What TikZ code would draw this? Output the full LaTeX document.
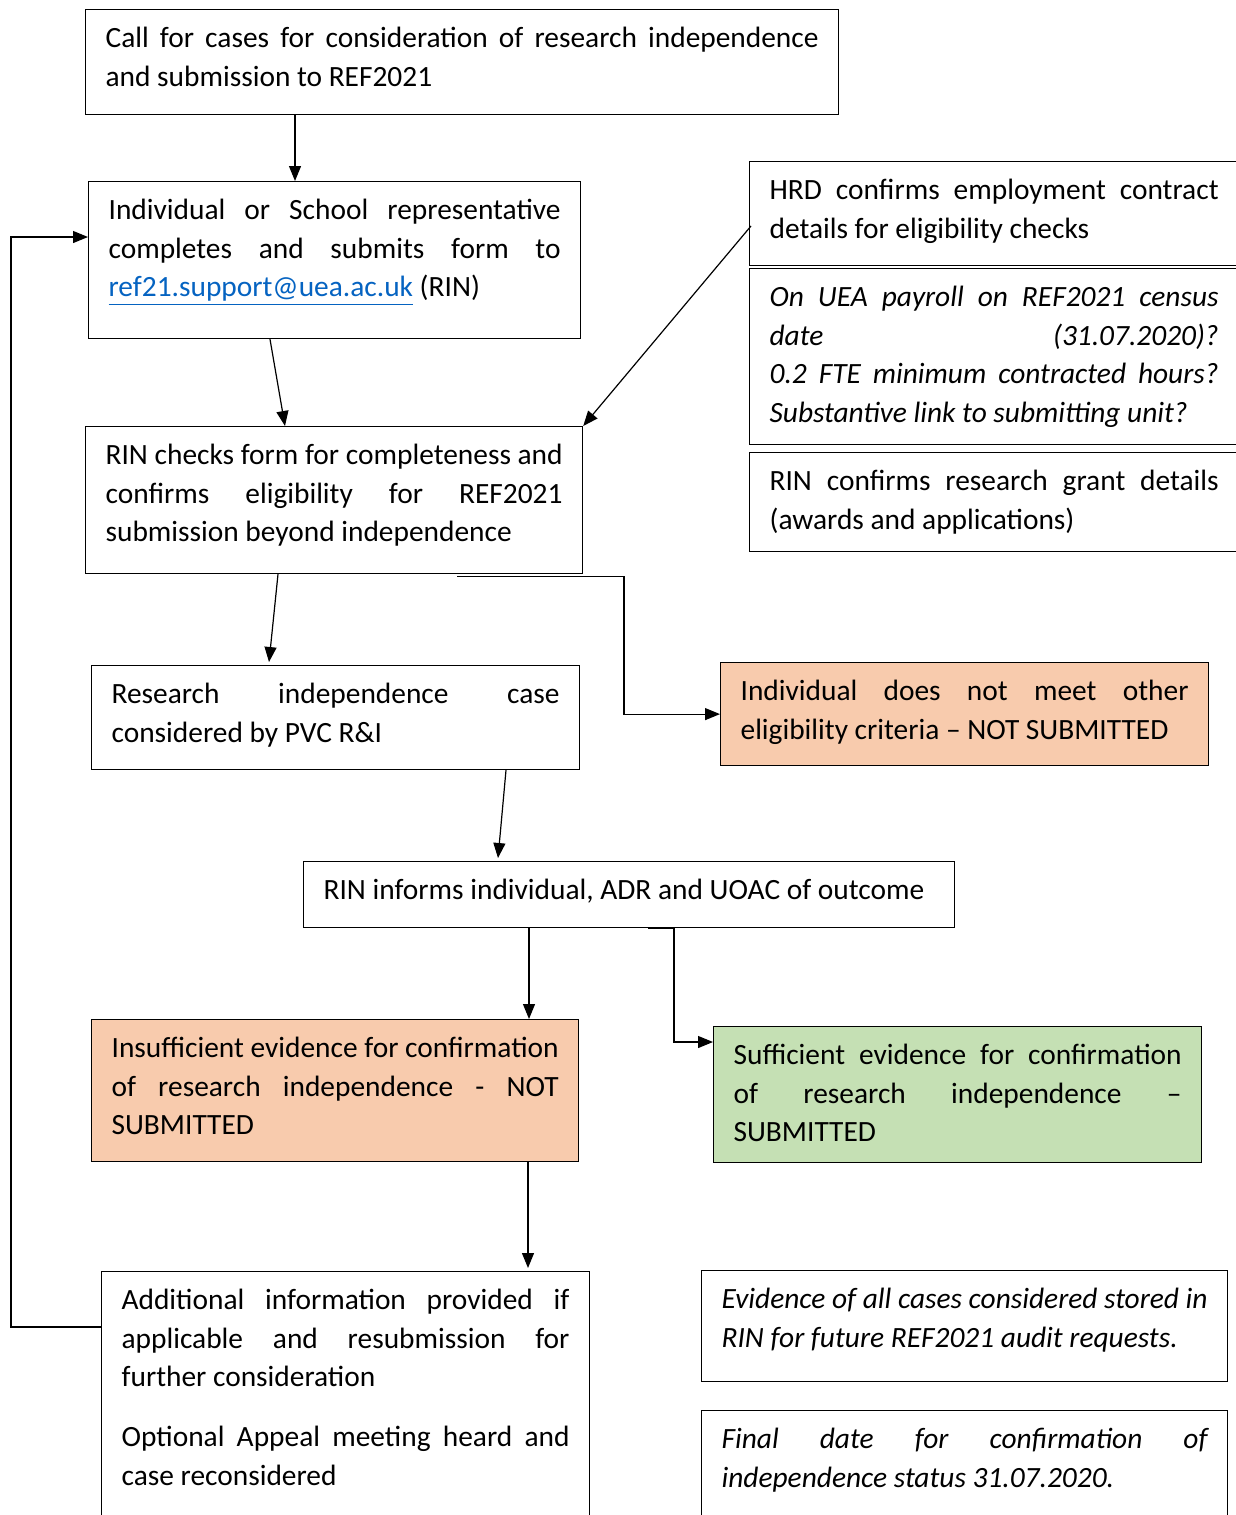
\documentclass[tikz,border=0pt]{standalone}
\usepackage{fontspec}
\setmainfont{Carlito}
\usetikzlibrary{arrows.meta}

\definecolor{peach}{HTML}{F8CBAD}
\definecolor{sage}{HTML}{C5E0B4}
\definecolor{maillink}{HTML}{0563C1}

% box text: width and height in px of the picture, text set justified
\newcommand{\boxtext}[3]{\parbox[t][\dimexpr #2pt/2\relax][t]{\dimexpr #1pt/2-20pt\relax}{%
  \tolerance=10000\hbadness=10000\hyphenpenalty=10000\vspace{5.5pt}\strut #3}}

\tikzset{
  stepbox/.style={draw, line width=0.6pt, anchor=north west, inner xsep=10pt, inner ysep=0pt,
    font=\fontsize{14.7}{19.25}\selectfont},
  arr/.style={line width=0.6pt, -{Triangle[length=7.5pt,width=6pt]}}
}

\begin{document}
\begin{tikzpicture}[x=0.5pt,y=-0.5pt]
\clip (0,0) rectangle (1236,1515);

\node[stepbox] (call) at (85,9) {\boxtext{753}{105}{Call for cases for consideration of research independence\linebreak and submission to REF2021}};
\node[stepbox] (indiv) at (88,181) {\boxtext{492}{157}{Individual or School representative\linebreak completes and submits form to\linebreak \textcolor{maillink}{\underline{ref21.support@uea.ac.uk}} (RIN)}};
\node[stepbox] (chk) at (85,426) {\boxtext{497}{147}{RIN checks form for completeness and\linebreak confirms eligibility for REF2021\linebreak submission beyond independence}};

\node[stepbox] (hrd) at (749,161) {\boxtext{489}{104}{HRD confirms employment contract\linebreak details for eligibility checks}};
\node[stepbox] (payroll) at (749,268) {\boxtext{489}{176}{\itshape On UEA payroll on REF2021 census\linebreak date (31.07.2020)?\linebreak 0.2 FTE minimum contracted hours?\linebreak Substantive link to submitting unit?}};
\node[stepbox] (grant) at (749,452) {\boxtext{489}{99}{RIN confirms research grant details\linebreak (awards and applications)}};

\node[stepbox] (pvc) at (91,665) {\boxtext{488}{104}{Research independence case\linebreak considered by PVC R\&I}};
\node[stepbox, fill=peach] (notelig) at (720,662) {\boxtext{488}{103}{Individual does not meet other\linebreak eligibility criteria – NOT SUBMITTED}};

\node[stepbox] (inform) at (303,861) {\boxtext{651}{66}{RIN informs individual, ADR and UOAC of outcome}};

\node[stepbox, fill=peach] (insuf) at (91,1019) {\boxtext{487}{142}{Insufficient evidence for confirmation\linebreak of research independence - NOT\linebreak SUBMITTED}};
\node[stepbox, fill=sage] (suf) at (713,1026) {\boxtext{488}{136}{Sufficient evidence for confirmation\linebreak of research independence –\linebreak SUBMITTED}};

\node[stepbox] (addinfo) at (101,1271) {\boxtext{488}{260}{Additional information provided if\linebreak applicable and resubmission for\linebreak further consideration\par\vspace{10.75pt}\strut Optional Appeal meeting heard and\linebreak case reconsidered}};
\node[stepbox] (stored) at (701,1270) {\boxtext{526}{111}{\itshape Evidence of all cases considered stored in\linebreak RIN for future REF2021 audit requests.}};
\node[stepbox] (finaldate) at (701,1410) {\boxtext{526}{130}{\itshape Final date for confirmation of\linebreak independence status 31.07.2020.}};

\draw[arr] ([xshift=105pt]call.south west) -- ([xshift=103.5pt]indiv.north west);
\draw[arr] ([xshift=91pt]indiv.south west) -- ([xshift=100pt]chk.north west);
\draw[arr] ([xshift=1pt,yshift=-32.5pt]hrd.north west) -- (chk.north east);
\draw[arr] ([xshift=96.5pt]chk.south west) -- ([xshift=89pt,yshift=1.5pt]pvc.north west);
\draw[arr] ([xshift=186pt,yshift=-1pt]chk.south west) -| ([xshift=-48pt]notelig.west) -- (notelig.west);
\draw[arr] ([xshift=207.5pt]pvc.south west) -- ([xshift=97.5pt,yshift=1.5pt]inform.north west);
\draw[arr] ([xshift=113pt]inform.south west) -- ([xshift=219pt]insuf.north west);
\draw[arr] ([xshift=172.5pt]inform.south west) -| ([xshift=-19.5pt,yshift=-8pt]suf.north west) -- ([yshift=-8pt]suf.north west);
\draw[arr] ([xshift=218.5pt]insuf.south west) -- ([xshift=213.5pt,yshift=1.5pt]addinfo.north west);
\draw[arr] ([yshift=-28pt]addinfo.north west) -- ++(-45pt,0) |- ([yshift=-28pt]indiv.north west);
\end{tikzpicture}
\end{document}
